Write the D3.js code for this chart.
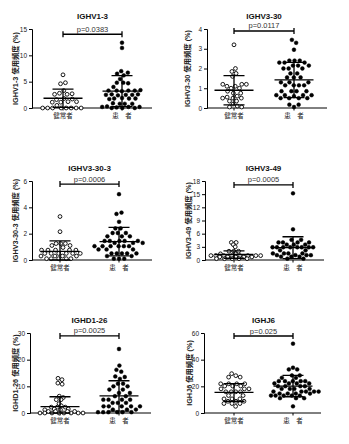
<!DOCTYPE html>
<html><head><meta charset="utf-8">
<script src="https://cdn.jsdelivr.net/npm/d3@7"></script>
<style>body{margin:0;background:#fff}svg{display:block}</style>
</head><body>
<svg id="c" width="349" height="444"></svg>
<script>
const genes = ["IGHV1-3", "IGHV3-30", "IGHV3-30-3", "IGHV3-49", "IGHD1-26", "IGHJ6"];
const groups = ["健常者", "患　者"];
const pValues = ["p=0.0383", "p=0.0117", "p=0.0006", "p=0.0005", "p=0.0025", "p=0.025"];
const yMax = [15, 4, 6, 18, 30, 60];
const yTicks = [[0,5,10,15],[0,1,2,3,4],[0,2,4,6],[0,3,6,9,12,15,18],[0,10,20,30],[0,20,40,60]];
const bracketVal = [14.0, 3.9, 5.77, 17.1, 28.9, 57.75];

const healthy1 = [6.3,4.8,4.6,3.3,2.8,2.7,2.6,2.6,1.8,1.7,1.6,1.2,1.1,1.2,1.1,0.5,0,0,0,0,0,0,0,0];
const patient1 = [12.4,11.4,7.0,6.7,6.5,6.2,5.5,4.8,4.8,4.7,4.0,3.4,3.3,3.3,3.3,3.2,3.3,2.6,2.5,2.5,2.6,2.5,2.4,1.8,1.8,1.9,1.7,1.8,0.8,0.8,0.9,0.8,0.2,0.2,0.3,0.1,0.2,0,0,0];
const healthy2 = [3.2,2.0,1.85,1.75,1.6,1.2,1.2,1.2,1.1,1.1,1.0,1.0,0.85,0.75,0.75,0.6,0.55,0.5,0.5,0.5,0.35,0.35,0.2,0.1,0.05,0.05];
const patient2 = [3.45,3.3,2.95,2.4,2.4,2.4,2.3,2.3,2.3,2.15,2.15,2.15,2.0,2.0,2.0,1.75,1.75,1.55,1.55,1.55,1.3,1.3,1.3,1.15,1.15,1.15,1.15,0.85,0.85,0.85,0.85,0.65,0.65,0.65,0.65,0.6,0.5,0.5,0.5,0.5,0.17,0.17,0.05];
const healthy3 = [3.3,2.15,1.25,1.25,1.25,1.1,1.1,0.95,0.75,0.75,0.75,0.75,0.75,0.5,0.5,0.5,0.5,0.5,0.5,0.3,0.3,0.3,0.3,0.1,0.1,0.1,0.1,0.1];
const patient3 = [5.0,3.6,3.5,2.9,2.4,2.4,2.05,2.05,2.05,1.8,1.8,1.8,1.45,1.45,1.45,1.45,1.45,1.3,1.3,1.3,1.05,1.05,1.05,1.05,1.05,1.05,0.8,0.8,0.8,0.5,0.5,0.5,0.5,0.5,0.3,0.3,0.1,0.1,0.1];
const healthy4 = [4.0,4.0,3.5,3.0,2.0,2.0,2.0,1.4,1.4,1.0,1.0,1.0,1.0,1.0,1.0,1.0,1.0,0.7,0.7,0.7,0.7,0.7,0.3,0.3,0.3,0.3,0.3];
const patient4 = [15.2,7.0,4.6,4.6,4.0,4.0,4.0,4.0,3.5,3.5,3.5,2.9,2.9,2.9,2.9,2.9,2.9,2.9,2.9,2.2,2.2,1.5,1.5,1.5,1.5,1.1,1.1,1.1,1.1,0.75,0.75,0.75,0.3,0.3];
const healthy5 = [13.0,12.5,11.2,10.8,6.3,5.8,5.0,5.0,3.5,2.7,2.2,2.2,2.2,1.5,1.5,1.2,1.2,0.6,0.6,0.6,0.6,0,0,0,0,0,0,0,0];
const patient5 = [24,17.8,16.2,15.5,13.7,13.5,12.8,11,11,10,10,8.8,8.8,7.5,7.5,6.3,6.3,5,5,5,5,3.8,3.8,3.8,2.5,2.5,2.5,2.5,2.5,1.3,1.3,1.3,0.3,0.3,0.3,0.3,0.3,0.3];
const healthy6 = [29.5,28,26.9,26.9,21.9,21.9,21.9,21.9,20.2,20.2,20.2,18.1,18.1,18.1,15.9,15.9,15.9,15.9,13.1,13.1,10.6,10.6,10.6,8.8,8.8,8.8,7.1,7.1,7.1,5.0];
const patient6 = [52,34,32.7,32.7,28.2,28.2,26.4,26.4,23.9,23.9,23.9,23.9,23.9,22.2,22.2,22.2,22.2,20.1,20.1,20.1,20.1,18.1,18.1,18.1,18.1,16.1,16.1,16.1,16.1,16.1,14.6,14.6,14.6,14.6,13.1,13.1,13.1,13.1,13.1,11.1,11.1,11.1,5.0];

const healthyMean = [1.85, 0.9, 0.65, 1.25, 2.4, 15.4];
const healthySD   = [1.75, 0.74, 0.8, 0.85, 3.7, 6.6];
const patientMean = [3.2, 1.42, 1.4, 2.8, 6.4, 20.2];
const patientSD   = [2.95, 0.89, 1.08, 2.5, 5.7, 8.0];

const healthyData = [healthy1, healthy2, healthy3, healthy4, healthy5, healthy6];
const patientData = [patient1, patient2, patient3, patient4, patient5, patient6];

// layout (pixels); rc = collision radius per column, ys = vertical stretch used only for the collision layout
const layouts = [
  {x0:32, x1:152, g:[63,122], top:29, bot:108, lx:15, rc:[2.5, 2.45], ys:[1, 1]},
  {x0:207, x1:327, g:[234,294], top:29, bot:108, lx:187, rc:[2.3, 2.6], ys:[1, 1]},
  {x0:32, x1:152, g:[60,119], top:181, bot:260, lx:15, rc:[2.3, 2.6], ys:[1, 1]},
  {x0:205, x1:324, g:[234,293], top:181, bot:260, lx:188, rc:[2.4, 2.2], ys:[2, 1]},
  {x0:30, x1:151, g:[60,119], top:333, bot:413, lx:15, rc:[2.4, 2.6], ys:[2, 1]},
  {x0:204, x1:321, g:[234,293], top:333, bot:413, lx:189, rc:[2.3, 2.27], ys:[1, 1]}
];

const FONT = "'Liberation Sans', Arial, 'Noto Sans CJK JP', sans-serif";
const svg = d3.select("#c");
const R = 1.9;

function swarm(vals, y, rc, ys) {
  const nodes = vals.map((v, k) => ({v, py: y(v), fy: y(v) * ys, y: y(v) * ys, x: ((k % 2) ? 1 : -1) * (k % 7) * 0.3}));
  const sim = d3.forceSimulation(nodes)
    .force("x", d3.forceX(0).strength(0.04))
    .force("c", d3.forceCollide(rc).iterations(4))
    .stop();
  for (let t = 0; t < 400; t++) sim.tick();
  return nodes.map(n => ({v: n.v, py: n.py, x: n.x}));
}

genes.forEach((gene, i) => {
  const L = layouts[i];
  const g = svg.append("g");
  const y = d3.scaleLinear().domain([0, yMax[i]]).range([L.bot, L.top]);

  // y axis
  const ya = g.append("g").attr("transform", `translate(${L.x0},0)`)
    .call(d3.axisLeft(y).tickValues(yTicks[i]).tickFormat(d3.format("d")).tickSize(3).tickPadding(2));
  ya.select(".domain").attr("stroke", "#000").attr("stroke-width", 1);
  ya.selectAll(".tick line").attr("stroke", "#000");
  ya.selectAll("text").attr("font-family", FONT).attr("font-size", 6.5).attr("fill", "#222");

  // x axis
  const x = d3.scalePoint().domain(groups).range(L.g);
  g.append("line").attr("x1", L.x0).attr("x2", L.x1).attr("y1", L.bot).attr("y2", L.bot)
    .attr("stroke", "#000").attr("stroke-width", 1);
  groups.forEach(gr => {
    g.append("line").attr("x1", x(gr)).attr("x2", x(gr)).attr("y1", L.bot).attr("y2", L.bot + 2.5)
      .attr("stroke", "#000").attr("stroke-width", 1);
    g.append("text").attr("x", x(gr)).attr("y", L.bot + 10).attr("text-anchor", "middle")
      .attr("font-family", FONT).attr("font-size", 6.5).attr("fill", "#222").text(gr);
  });

  // y label
  g.append("text").attr("transform", `translate(${L.lx},${(L.top + L.bot)/2}) rotate(-90)`)
    .attr("text-anchor", "middle").attr("dominant-baseline", "central")
    .attr("font-family", FONT).attr("font-size", 7.3).attr("font-weight", "bold").attr("fill", "#222")
    .text(gene + " 使用頻度 (%)");

  // title
  g.append("text").attr("x", (L.g[0] + L.g[1]) / 2).attr("y", L.top - 10).attr("text-anchor", "middle")
    .attr("font-family", FONT).attr("font-size", 8).attr("font-weight", "bold").attr("fill", "#111").text(gene);

  // bracket
  const by = y(bracketVal[i]);
  g.append("path").attr("d", `M${L.g[0]},${by-3}V${by+3}M${L.g[0]},${by}H${L.g[1]}M${L.g[1]},${by-3}V${by+3}`)
    .attr("stroke", "#000").attr("stroke-width", 1.3).attr("fill", "none");
  g.append("text").attr("x", (L.g[0] + L.g[1]) / 2).attr("y", by - 2.5).attr("text-anchor", "middle")
    .attr("font-family", FONT).attr("font-size", 7.5).attr("fill", "#333").text(pValues[i]);

  // points
  const sets = [
    {vals: healthyData[i], cx: x(groups[0]), open: true, m: healthyMean[i], sd: healthySD[i], rc: L.rc[0], ys: L.ys[0]},
    {vals: patientData[i], cx: x(groups[1]), open: false, m: patientMean[i], sd: patientSD[i], rc: L.rc[1], ys: L.ys[1]}
  ];
  sets.forEach(s => {
    const pts = swarm(s.vals, y, s.rc, s.ys);
    g.selectAll(null).data(pts).enter().append("circle")
      .attr("cx", d => s.cx + d.x).attr("cy", d => d.py).attr("r", R)
      .attr("fill", s.open ? "#fff" : "#000").attr("stroke", "#000").attr("stroke-width", s.open ? 0.9 : 0.5);
    // mean & SD
    const yu = y(s.m + s.sd), yl = y(Math.max(0, s.m - s.sd)), ym = y(s.m);
    g.append("path")
      .attr("d", `M${s.cx-19.5},${ym}H${s.cx+19.5}M${s.cx},${yl}V${yu}M${s.cx-10.5},${yu}H${s.cx+10.5}M${s.cx-10.5},${yl}H${s.cx+10.5}`)
      .attr("stroke", "#000").attr("stroke-width", 1.3).attr("fill", "none");
  });
});
</script>
</body></html>
